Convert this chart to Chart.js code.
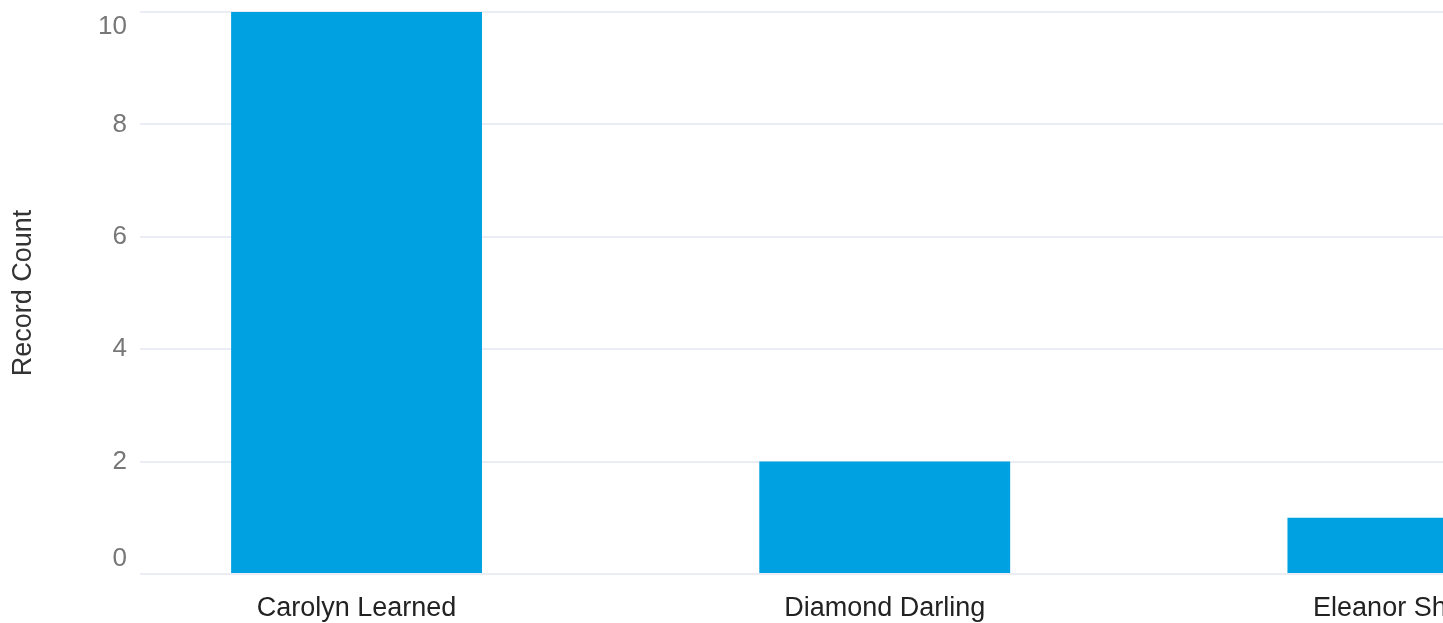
<!DOCTYPE html>
<html>
<head>
<meta charset="utf-8">
<script src="https://cdn.jsdelivr.net/npm/chart.js@4"></script>
<style>
  html, body { margin: 0; padding: 0; background: #fff; overflow: hidden; }
  #wrap { width: 1443px; height: 623px; overflow: hidden; }
</style>
</head>
<body>
<div id="wrap"><canvas id="myChart" width="1677" height="623"></canvas></div>
<script>
const names = ["Carolyn Learned", "Diamond Darling", "Eleanor Sheldon"];
const counts = [10, 2, 1];
const yMax = 10;
const yStep = 2;

const FONT = "'Liberation Sans', Arial, Helvetica, sans-serif";

function createChart() {
  const config = {
    type: "bar",
    data: {
      datasets: [
        {
          label: "Record Count",
          data: counts.map((c, i) => ({ x: i, y: c })),
          backgroundColor: "#00a1e0",
          borderWidth: 0,
          barPercentage: 0.475,
          categoryPercentage: 1,
        },
      ],
    },
    options: {
      responsive: false,
      animation: false,
      layout: { padding: 0 },
      plugins: {
        legend: { display: false },
        tooltip: { enabled: false },
      },
      scales: {
        x: {
          type: "linear",
          offset: false,
          min: -0.41,
          max: 2.5,
          grid: { display: false, drawTicks: false },
          border: { display: false },
          afterFit: (scale) => {
            scale.height = 49;
            scale.paddingLeft = 0;
            scale.paddingRight = 0;
          },
          ticks: {
            stepSize: 1,
            includeBounds: false,
            autoSkip: false,
            maxRotation: 0,
            padding: 18,
            color: "#222",
            font: { family: FONT, size: 27 },
            callback: (v) => names[v],
          },
        },
        y: {
          min: 0,
          max: yMax,
          afterFit: (scale) => {
            scale.width = 140;
            scale.paddingTop = 12;
            scale.paddingBottom = 0;
          },
          grid: { color: "#eaeef4", lineWidth: 2, drawTicks: false },
          border: { display: false },
          ticks: {
            stepSize: yStep,
            padding: 13,
            color: "#777",
            font: { family: FONT, size: 26, lineHeight: "30px" },
            // keep the end labels inside the plot like the original
            callback: (v) => {
              if (v === yMax) return ["", String(v)];
              if (v === 0) return [String(v), ""];
              return String(v);
            },
          },
          title: {
            display: true,
            text: "Record Count",
            color: "#333",
            font: { family: FONT, size: 27 },
            padding: { top: 7, bottom: 0 },
          },
        },
      },
    },
  };
  return new Chart(document.getElementById("myChart"), config);
}

createChart();
</script>
</body>
</html>
